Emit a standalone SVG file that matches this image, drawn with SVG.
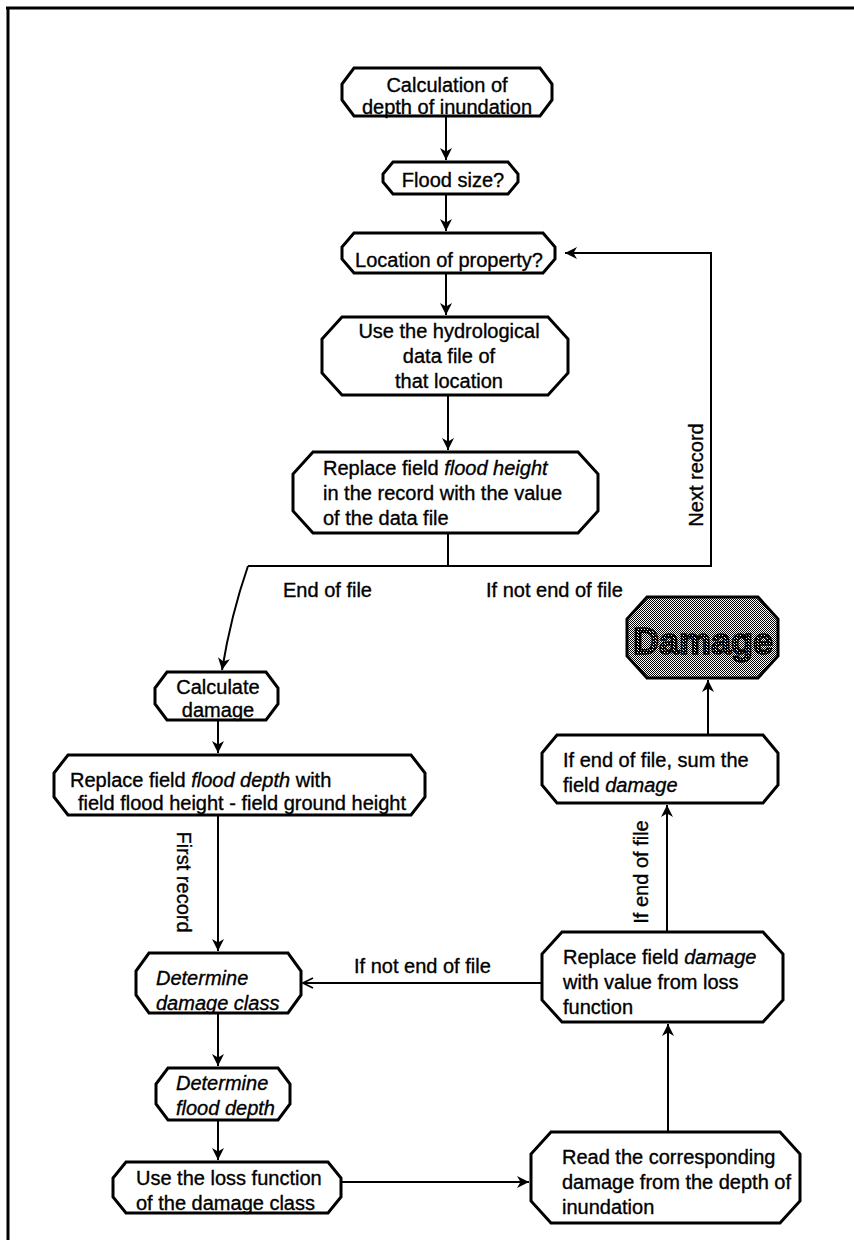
<svg xmlns="http://www.w3.org/2000/svg" width="854" height="1240" viewBox="0 0 854 1240">
  <defs>
    <style>
      .node { fill: #fff; stroke: #000; stroke-width: 3; stroke-linejoin: miter; }
      .lbl { font-family: "Liberation Sans", Arial, sans-serif; font-size: 20px; fill: #000; stroke: #000; stroke-width: 0.35; }
      .c { text-anchor: middle; }
      .it { font-style: italic; }
      .wire { fill: none; stroke: #000; stroke-width: 2; }
      .frame { fill: none; stroke: #000; stroke-width: 3; }
    </style>
    <marker id="arr" viewBox="0 0 12 12" refX="12" refY="6" markerWidth="12" markerHeight="12" markerUnits="userSpaceOnUse" orient="auto">
      <path d="M0,0 L12,6 L0,12 L3.5,6 Z" fill="#000"/>
    </marker>
    <marker id="open" viewBox="0 0 12 12" refX="11" refY="6" markerWidth="12" markerHeight="12" markerUnits="userSpaceOnUse" orient="auto">
      <path d="M1,1 L11,6 L1,11" fill="none" stroke="#000" stroke-width="1.6"/>
    </marker>
    <!-- 50% checker used for the shaded result box -->
    <pattern id="dots" width="2" height="2" patternUnits="userSpaceOnUse">
      <rect width="2" height="2" fill="#fff"/>
      <rect x="0" y="0" width="1" height="1" fill="#000"/>
      <rect x="1" y="1" width="1" height="1" fill="#000"/>
    </pattern>
    <!-- denser speckle for the lettering inside it -->
    <pattern id="dense" width="3" height="3" patternUnits="userSpaceOnUse">
      <rect width="3" height="3" fill="#000"/>
      <rect x="1" y="1" width="1" height="1" fill="#fff"/>
      <rect x="2" y="2" width="1" height="1" fill="#fff"/>
    </pattern>
  </defs>

  <!-- page border (top and left only) -->
  <path class="frame" d="M6,8 H854 M8,8 V1240"/>

  <!-- connectors -->
  <g id="connectors">
    <path class="wire" d="M446,116 V160" marker-end="url(#arr)"/>
    <path class="wire" d="M446,194 V231" marker-end="url(#arr)"/>
    <path class="wire" d="M446,273 V315" marker-end="url(#arr)"/>
    <path class="wire" d="M448,395 V450" marker-end="url(#arr)"/>
    <path class="wire" d="M448,533 V566"/>
    <path class="wire" d="M248,566 H711 V253 H565" marker-end="url(#arr)"/>
    <path class="wire" d="M248,566 Q231,615 222,670" marker-end="url(#arr)"/>
    <path class="wire" d="M218,720 V753" marker-end="url(#arr)"/>
    <path class="wire" d="M218,815 V951" marker-end="url(#arr)"/>
    <path class="wire" d="M542,983 H303" marker-end="url(#open)"/>
    <path class="wire" d="M218,1013 V1066" marker-end="url(#arr)"/>
    <path class="wire" d="M218,1120 V1160" marker-end="url(#arr)"/>
    <path class="wire" d="M341,1182 H529" marker-end="url(#arr)"/>
    <path class="wire" d="M668,1132 V1024" marker-end="url(#arr)"/>
    <path class="wire" d="M667,932 V805" marker-end="url(#arr)"/>
    <path class="wire" d="M708,735 V680" marker-end="url(#arr)"/>
  </g>

  <!-- connector labels -->
  <g id="edge-labels">
    <text class="lbl" x="283" y="597">End of file</text>
    <text class="lbl" x="486" y="597">If not end of file</text>
    <text class="lbl" x="354" y="973">If not end of file</text>
    <text class="lbl c" transform="translate(703,475) rotate(-90)">Next record</text>
    <text class="lbl c" transform="translate(648,872) rotate(-90)">If end of file</text>
    <text class="lbl c" transform="translate(177,882) rotate(90)">First record</text>
  </g>

  <g id="n-calc-depth">
    <path class="node" d="M354,68 H540 L552,84 V100 L540,116 H354 L342,100 V84 Z"/>
    <text class="lbl c" x="447" y="92">Calculation of</text>
    <text class="lbl c" x="447" y="114">depth of inundation</text>
  </g>

  <g id="n-flood-size">
    <path class="node" d="M393,162 H508 L518,174 V182 L508,194 H393 L383,182 V174 Z"/>
    <text class="lbl c" x="453" y="187">Flood size?</text>
  </g>

  <g id="n-location">
    <path class="node" d="M354,233 H543 L555,247 V259 L543,273 H354 L342,259 V247 Z"/>
    <text class="lbl c" x="449" y="267">Location of property?</text>
  </g>

  <g id="n-hydro-file">
    <path class="node" d="M342,317 H548 L568,339 V373 L548,395 H342 L322,373 V339 Z"/>
    <text class="lbl c" x="449" y="338">Use the hydrological</text>
    <text class="lbl c" x="449" y="363">data file of</text>
    <text class="lbl c" x="449" y="388">that location</text>
  </g>

  <g id="n-flood-height">
    <path class="node" d="M313,452 H578 L598,474 V511 L578,533 H313 L293,511 V474 Z"/>
    <text class="lbl" x="323" y="475">Replace field <tspan class="it">flood height</tspan></text>
    <text class="lbl" x="323" y="500">in the record with the value</text>
    <text class="lbl" x="323" y="525">of the data file</text>
  </g>

  <g id="n-calc-damage">
    <path class="node" d="M167,672 H266 L278,688 V704 L266,720 H167 L155,704 V688 Z"/>
    <text class="lbl c" x="218" y="694">Calculate</text>
    <text class="lbl c" x="218" y="717">damage</text>
  </g>

  <g id="n-flood-depth">
    <path class="node" d="M68,755 H411 L425,773 V797 L411,815 H68 L54,797 V773 Z"/>
    <text class="lbl" x="70" y="787">Replace field <tspan class="it">flood depth</tspan> with</text>
    <text class="lbl" x="78" y="810">field flood height - field ground height</text>
  </g>

  <g id="n-damage-class">
    <path class="node" d="M149,953 H288 L301,971 V995 L288,1013 H149 L136,995 V971 Z"/>
    <text class="lbl it" x="156" y="985">Determine</text>
    <text class="lbl it" x="156" y="1010">damage class</text>
  </g>

  <g id="n-det-depth">
    <path class="node" d="M168,1068 H278 L290,1084 V1104 L278,1120 H168 L156,1104 V1084 Z"/>
    <text class="lbl it" x="176" y="1090">Determine</text>
    <text class="lbl it" x="176" y="1115">flood depth</text>
  </g>

  <g id="n-loss-fn">
    <path class="node" d="M126,1162 H328 L341,1178 V1197 L328,1213 H126 L113,1197 V1178 Z"/>
    <text class="lbl" x="136" y="1185">Use the loss function</text>
    <text class="lbl" x="136" y="1210">of the damage class</text>
  </g>

  <g id="n-read-damage">
    <path class="node" d="M551,1132 H780 L800,1154 V1201 L780,1223 H551 L531,1201 V1154 Z"/>
    <text class="lbl" x="562" y="1164">Read the corresponding</text>
    <text class="lbl" x="562" y="1189">damage from the depth of</text>
    <text class="lbl" x="562" y="1214">inundation</text>
  </g>

  <g id="n-replace-damage">
    <path class="node" d="M562,932 H763 L783,954 V1000 L763,1022 H562 L542,1000 V954 Z"/>
    <text class="lbl" x="563" y="964">Replace field <tspan class="it">damage</tspan></text>
    <text class="lbl" x="563" y="989">with value from loss</text>
    <text class="lbl" x="563" y="1014">function</text>
  </g>

  <g id="n-sum">
    <path class="node" d="M557,735 H763 L778,753 V785 L763,803 H557 L542,785 V753 Z"/>
    <text class="lbl" x="563" y="767">If end of file, sum the</text>
    <text class="lbl" x="563" y="792">field <tspan class="it">damage</tspan></text>
  </g>

  <g id="n-damage">
    <path d="M647,597 H758 L778,619 V656 L758,678 H647 L627,656 V619 Z" fill="url(#dots)" stroke="#000" stroke-width="3"/>
    <text x="703" y="654" text-anchor="middle" font-family="Liberation Sans, Arial, sans-serif" font-size="36" font-weight="bold" fill="url(#dense)" stroke="#000" stroke-width="1.5">Damage</text>
  </g>
</svg>
